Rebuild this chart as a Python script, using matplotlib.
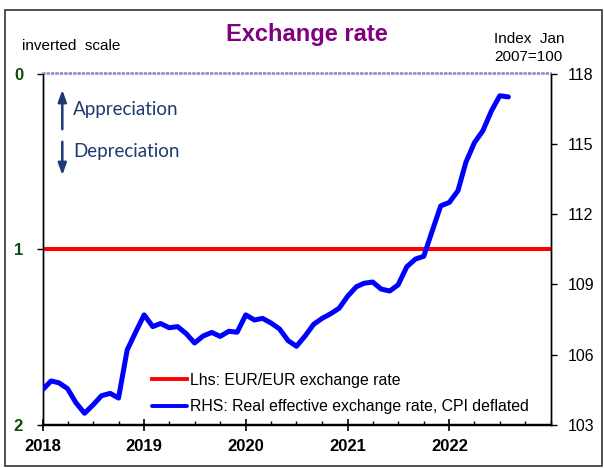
import matplotlib
matplotlib.use("Agg")
import matplotlib.pyplot as plt
import matplotlib.dates as mdates
from matplotlib.patches import Rectangle
import pandas as pd

# Real effective exchange rate, CPI deflated (Index Jan 2007=100), monthly from Jan 2018
reer = [104.50, 104.88, 104.80, 104.55, 103.95, 103.50, 103.85, 104.25, 104.35, 104.15,
        106.20, 106.95, 107.70, 107.20, 107.33, 107.15, 107.20, 106.90, 106.50, 106.80,
        106.95, 106.78, 107.00, 106.96, 107.70, 107.48, 107.55, 107.35, 107.10, 106.60,
        106.36, 106.80, 107.30, 107.55, 107.75, 107.98, 108.50, 108.90, 109.05, 109.10,
        108.80, 108.72, 108.98, 109.75, 110.08, 110.20, 111.30, 112.35, 112.50, 113.00,
        114.20, 115.05, 115.55, 116.40, 117.05, 117.00]
dates = pd.date_range("2018-01-01", periods=len(reer), freq="MS")

# EUR/EUR exchange rate (left axis, inverted)
eur_eur = 1.0

years = [2018, 2019, 2020, 2021, 2022]
lhs_ticks = [0, 1, 2]
rhs_ticks = [103, 106, 109, 112, 115, 118]

legend_labels = ["Lhs: EUR/EUR exchange rate",
                 "RHS: Real effective exchange rate, CPI deflated"]

W, H = 604, 468
fig = plt.figure(figsize=(W / 100, H / 100), dpi=100)
plt.rcParams["font.family"] = ["Liberation Sans", "DejaVu Sans"]

ax = fig.add_axes([42.5 / W, 1 - 425 / H, (551 - 42.5) / W, (425 - 73.5) / H])
ax2 = ax.twinx()

# left axis: exchange rate, inverted
red_line = ax.axhline(eur_eur, color="#ff0000", lw=2.9, zorder=3)
ax.set_ylim(2, 0)
ax.set_yticks(lhs_ticks)
ax.set_yticklabels([str(t) for t in lhs_ticks], fontsize=12, fontweight="bold",
                   color="#0f4a0f")
ax.tick_params(axis="y", direction="out", length=4, width=1, pad=10)

# right axis: REER
blue_line, = ax2.plot(dates, reer, color="#0000ff", lw=3.6, solid_capstyle="round",
                      solid_joinstyle="round", zorder=4)
ax2.set_ylim(103, 118)
ax2.set_yticks(rhs_ticks)
ax2.tick_params(axis="y", direction="out", length=4, width=1, pad=8, labelsize=11.5)

ax.set_xlim(pd.Timestamp("2018-01-01"), pd.Timestamp("2023-01-01"))
ax.set_xticks([pd.Timestamp(f"{y}-01-01") for y in years])
ax.set_xticklabels([str(y) for y in years], fontsize=12, fontweight="bold")
ax.xaxis.set_minor_locator(mdates.MonthLocator(bymonth=[1, 4, 7, 10]))
ax.tick_params(axis="x", which="major", direction="inout", length=8, width=1.2, pad=6)
ax.tick_params(axis="x", which="minor", direction="in", length=3, width=1)

for a in (ax, ax2):
    a.spines["top"].set_color("#8c8cc8")
    a.spines["top"].set_linestyle(":")
    a.spines["top"].set_linewidth(1.2)
    a.spines["left"].set_linewidth(1)
    a.spines["right"].set_linewidth(1)
    a.spines["bottom"].set_linewidth(1.6)
    a.patch.set_visible(False)

# appreciation / depreciation arrows
navy = "#1f3a70"
ax.annotate("", xy=(62.3, H - 87), xytext=(62.3, H - 132), xycoords="figure pixels",
            textcoords="figure pixels",
            arrowprops=dict(arrowstyle="-|>,head_length=0.7,head_width=0.25", color=navy, lw=1.8))
ax.annotate("", xy=(62.3, H - 178), xytext=(62.3, H - 139), xycoords="figure pixels",
            textcoords="figure pixels",
            arrowprops=dict(arrowstyle="-|>,head_length=0.7,head_width=0.25", color=navy, lw=1.8))
fig.text(73 / W, 1 - 110 / H, "Appreciation", fontsize=13.5, color=navy,
         family=["Lato", "DejaVu Sans"], va="center", ha="left")
fig.text(73 / W, 1 - 151 / H, "Depreciation", fontsize=13.5, color=navy,
         family=["Lato", "DejaVu Sans"], va="center", ha="left")

leg = ax2.legend([red_line, blue_line], legend_labels, loc="lower left",
                 bbox_to_anchor=(103 / (551 - 42.5), 0.013), frameon=False, fontsize=11.4,
                 handlelength=2.25, handletextpad=0.15, labelspacing=0.72, borderaxespad=0)
for h in leg.get_lines():
    h.set_linewidth(2.8)

# titles and notes
fig.text(306.5 / W, 1 - 34 / H, "Exchange rate", fontsize=17, fontweight="heavy",
         color="#800080", ha="center", va="center")
fig.text(22 / W, 1 - 46.5 / H, "inverted  scale", fontsize=11, ha="left", va="center")
fig.text(494 / W, 1 - 48 / H, "Index  Jan\n2007=100", fontsize=11, ha="left", va="center",
         linespacing=1.3)

# outer frame
fig.patches.append(Rectangle((4.5 / W, 1 - 466 / H), (602 - 4.5) / W, (466 - 9.5) / H,
                             transform=fig.transFigure, fill=False, edgecolor="#333333",
                             lw=1.2))

fig.savefig("out.png", dpi=100)
